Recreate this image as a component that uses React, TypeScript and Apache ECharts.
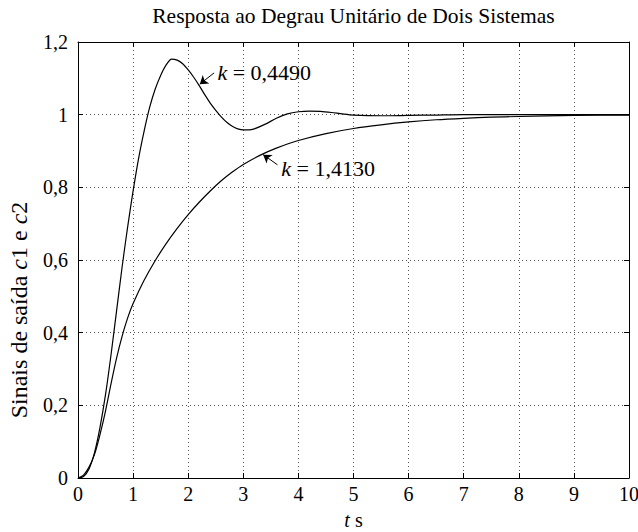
import React, { useEffect, useRef } from "react";
import * as echarts from "echarts";

const FONT = "Liberation Serif";

const titleText = "Resposta ao Degrau Unitário de Dois Sistemas";
// [text, italic]
const xAxisName: [string, boolean][] = [["t", true], [" s", false]];
const yAxisName: [string, boolean][] = [["Sinais de saída ", false], ["c", true], ["1 e ", false], ["c", true], ["2", false]];

const xTickValues = [0, 1, 2, 3, 4, 5, 6, 7, 8, 9, 10];
const xTickLabels = ["0", "1", "2", "3", "4", "5", "6", "7", "8", "9", "10"];
const yTickValues = [0, 0.2, 0.4, 0.6, 0.8, 1.0, 1.2];
const yTickLabels = ["0", "0,2", "0,4", "0,6", "0,8", "1", "1,2"];

// k = 0,4490 response (c1)
const t1 = [0, 0.1, 0.2, 0.3, 0.4, 0.5, 0.6, 0.7, 0.8, 0.9, 1.0, 1.1, 1.2, 1.3, 1.4, 1.5, 1.6, 1.7, 1.8, 1.9, 2.0, 2.1, 2.2, 2.3, 2.4, 2.5, 2.6, 2.7, 2.8, 2.9, 3.0, 3.1, 3.2, 3.4, 3.6, 3.8, 4.0, 4.2, 4.4, 4.6, 4.8, 5.0, 5.5, 6.0, 6.5, 7, 8, 9, 10];
const c1 = [0, 0.004, 0.025, 0.07, 0.14, 0.23, 0.34, 0.46, 0.58, 0.69, 0.79, 0.88, 0.955, 1.02, 1.07, 1.108, 1.137, 1.153, 1.15, 1.14, 1.123, 1.103, 1.08, 1.055, 1.032, 1.012, 0.994, 0.979, 0.968, 0.961, 0.958, 0.958, 0.961, 0.974, 0.99, 1.002, 1.008, 1.01, 1.009, 1.006, 1.002, 0.999, 0.997, 0.998, 0.999, 1.0, 1.0, 1.0, 1.0];

// k = 1,4130 response (c2)
const t2 = [0, 0.1, 0.2, 0.3, 0.4, 0.5, 0.6, 0.7, 0.8, 0.9, 1.0, 1.2, 1.4, 1.6, 1.8, 2.0, 2.2, 2.4, 2.6, 2.8, 3.0, 3.3, 3.6, 4.0, 4.5, 5.0, 5.5, 6.0, 6.5, 7, 7.5, 8, 9, 10];
const c2 = [0, 0.008, 0.03, 0.065, 0.12, 0.185, 0.26, 0.33, 0.39, 0.44, 0.48, 0.544, 0.598, 0.645, 0.687, 0.725, 0.759, 0.79, 0.818, 0.842, 0.863, 0.888, 0.908, 0.929, 0.948, 0.962, 0.972, 0.98, 0.986, 0.99, 0.993, 0.995, 0.998, 0.999];

const annot1Text: [string, boolean][] = [["k", true], [" = 0,4490", false]];
const annot1Pos = [2.53, 1.115];
const arrow1 = [[2.47, 1.115], [2.21, 1.084]];

const annot2Text: [string, boolean][] = [["k", true], [" = 1,4130", false]];
const annot2Pos = [3.69, 0.853];
const arrow2 = [[3.62, 0.862], [3.36, 0.89]];

const xMin = 0, xMax = 10, xStep = 1;
const yMin = 0, yMax = 1.2, yStep = 0.2;

const zip = (a: number[], b: number[]) => a.map((v, i) => [v, b[i]]);

export default function App() {
  const ref = useRef<HTMLDivElement>(null);
  useEffect(() => {
    if (!ref.current) return;
    const chart = echarts.init(ref.current, null, { renderer: "svg" });
    const axisLine = { show: true, onZero: false, lineStyle: { color: "#000", width: 1 } };
    const axisTick = { show: true, inside: true, length: 5, lineStyle: { color: "#000", width: 1 } };
    const gridLine = { show: true, lineStyle: { color: "#555", width: 1, type: [1, 3] } };
    const axisBase = (extra: any) => ({
      type: "value",
      axisLine,
      axisTick,
      axisLabel: { show: false },
      ...extra,
    });
    chart.setOption({
      animation: false,
      backgroundColor: "#fff",
      grid: { left: 78, right: 9, top: 42, bottom: 54, show: false },
      xAxis: [
        axisBase({ min: xMin, max: xMax, interval: xStep, position: "bottom", splitLine: gridLine }),
        axisBase({ min: xMin, max: xMax, interval: xStep, position: "top", splitLine: { show: false } }),
      ],
      yAxis: [
        axisBase({ min: yMin, max: yMax, interval: yStep, position: "left", splitLine: gridLine }),
        axisBase({ min: yMin, max: yMax, interval: yStep, position: "right", splitLine: { show: false } }),
      ],
      series: [
        {
          type: "line",
          data: zip(t1, c1),
          showSymbol: false,
          symbol: "none",
          smooth: 0.3,
          lineStyle: { color: "#000", width: 1.2 },
          silent: true,
        },
        {
          type: "line",
          data: zip(t2, c2),
          showSymbol: false,
          symbol: "none",
          smooth: 0.3,
          lineStyle: { color: "#000", width: 1.2 },
          silent: true,
        },
        {
          type: "lines",
          coordinateSystem: "cartesian2d",
          symbol: ["none", "arrow"],
          symbolSize: 8,
          lineStyle: { color: "#000", width: 1, opacity: 1, curveness: 0 },
          silent: true,
          data: [{ coords: arrow1 }, { coords: arrow2 }],
        },
      ],
    });

    // text drawn as plain graphic texts (serif), positioned through the axes
    const canvas = document.createElement("canvas");
    const ctx = canvas.getContext("2d")!;
    const measure = (s: string, size: number, italic: boolean) => {
      ctx.font = (italic ? "italic " : "") + size + 'px "' + FONT + '"';
      return ctx.measureText(s).width;
    };
    const txt = (s: string, x: number, y: number, size: number, italic: boolean, align: string) => ({
      type: "text",
      x,
      y,
      silent: true,
      style: {
        text: s,
        fontSize: size,
        fontFamily: FONT,
        fontStyle: italic ? "italic" : "normal",
        fill: "#000",
        textAlign: align,
        textVerticalAlign: "middle",
      },
    });
    const run = (pieces: [string, boolean][], size: number, x: number, y: number, align: string) => {
      const widths = pieces.map((p) => measure(p[0], size, p[1]));
      const total = widths.reduce((a, b) => a + b, 0);
      let cx = align === "center" ? x - total / 2 : align === "right" ? x - total : x;
      return pieces.map((p, i) => {
        const el = txt(p[0], cx, y, size, p[1], "left");
        cx += widths[i];
        return el;
      });
    };
    const toPx = (p: number[]) => chart.convertToPixel({ xAxisIndex: 0, yAxisIndex: 0 }, p) as number[];

    const origin = toPx([xMin, yMin]);
    const center = toPx([(xMin + xMax) / 2, (yMin + yMax) / 2]);
    const elements: any[] = [];
    elements.push(txt(titleText, center[0], 16, 21.5, false, "center"));
    xTickValues.forEach((v, i) => {
      const p = toPx([v, yMin]);
      elements.push(txt(xTickLabels[i], p[0], p[1] + 16, 20, false, "center"));
    });
    yTickValues.forEach((v, i) => {
      const p = toPx([xMin, v]);
      elements.push(txt(yTickLabels[i], p[0] - 10, p[1], 20, false, "right"));
    });
    elements.push(...run(xAxisName, 20, center[0], origin[1] + 42, "center"));
    elements.push({
      type: "group",
      x: 19,
      y: 310,
      rotation: Math.PI / 2,
      children: run(yAxisName, 24, 0, 0, "center"),
    });
    const a1 = toPx(annot1Pos);
    elements.push(...run(annot1Text, 22, a1[0], a1[1], "left"));
    const a2 = toPx(annot2Pos);
    elements.push(...run(annot2Text, 22, a2[0], a2[1], "left"));
    chart.setOption({ graphic: elements });

    return () => chart.dispose();
  }, []);
  return (
    <div
      ref={ref}
      style={{ position: "fixed", left: 0, top: 0, width: 638, height: 532, background: "#fff" }}
    />
  );
}
